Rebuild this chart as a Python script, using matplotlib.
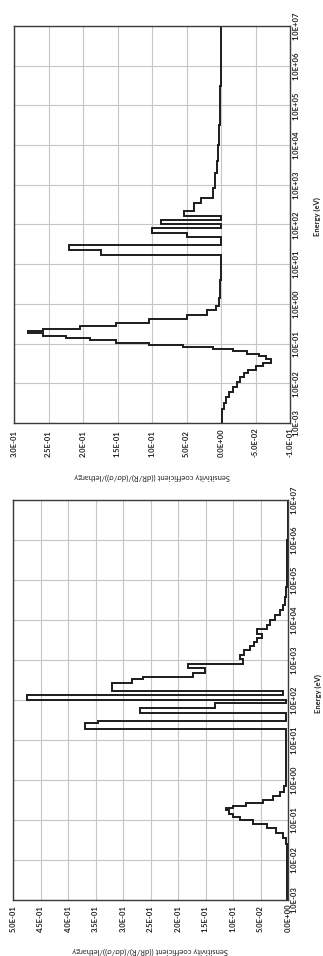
import matplotlib
matplotlib.use("Agg")
import matplotlib.pyplot as plt
import numpy as np
from matplotlib.ticker import FuncFormatter, FixedLocator, NullLocator

plt.rcParams['font.family'] = ['Lato', 'DejaVu Sans']

# group lower bounds as log10(E/eV); the last entry closes the top group
top_loge = [-3.00, -2.80, -2.65, -2.50, -2.34, -2.21, -2.09, -1.96, -1.85, -1.75,
            -1.66, -1.56, -1.48, -1.40, -1.32, -1.25, -1.19, -1.14, -1.09, -1.04,
            -0.98, -0.92, -0.87, -0.80, -0.74, -0.68, -0.62, -0.55, -0.47, -0.38,
            -0.28, -0.15, -0.05, 0.15, 0.60,
            1.235, 1.35, 1.485, 1.685, 1.793, 1.90, 2.018, 2.125, 2.225, 2.335,
            2.543, 2.668, 2.918, 3.3, 3.6, 4.0, 4.5, 5.0, 5.5, 6.0, 6.5, 7.0]
top_sens = [-0.001, -0.002, -0.004, -0.0075, -0.012, -0.017, -0.023, -0.027, -0.034, -0.039,
            -0.051, -0.061, -0.073, -0.065, -0.055, -0.037, -0.017, 0.012, 0.055, 0.104,
            0.152, 0.190, 0.224, 0.258, 0.279, 0.258, 0.205, 0.152, 0.104, 0.050,
            0.021, 0.007, 0.003, 0.001, 0.0005,
            0.174, 0.220, 0.0005, 0.050, 0.100, 0.0005, 0.087, 0.0005, 0.053, 0.039,
            0.029, 0.012, 0.009, 0.006, 0.0045, 0.0035, 0.002, 0.001, 0.0007, 0.0003, 0.0]

bot_loge = [-3.0, -2.5, -2.0, -1.6, -1.45, -1.32, -1.20, -1.10, -1.00, -0.92,
            -0.84, -0.76, -0.70, -0.64, -0.57, -0.49, -0.41, -0.30, -0.15, 0.0,
            0.6, 1.0,
            1.268, 1.418, 1.483, 1.683, 1.808, 1.918, 2.0, 2.125, 2.23, 2.417,
            2.517, 2.583, 2.683, 2.793, 2.90, 3.018, 3.125, 3.25, 3.35, 3.45,
            3.55, 3.65, 3.775, 3.875, 4.0, 4.125, 4.25, 4.375, 4.575, 4.825,
            5.175, 6.0, 7.0]
bot_sens = [0.001, 0.0015, 0.002, 0.004, 0.009, 0.021, 0.039, 0.064, 0.088, 0.100,
            0.108, 0.112, 0.100, 0.076, 0.045, 0.027, 0.015, 0.008, 0.004, 0.003,
            0.003, 0.004,
            0.369, 0.345, 0.003, 0.270, 0.133, 0.003, 0.475, 0.009, 0.320, 0.284,
            0.263, 0.172, 0.151, 0.181, 0.082, 0.088, 0.080, 0.070, 0.062, 0.057,
            0.048, 0.056, 0.038, 0.032, 0.024, 0.015, 0.009, 0.005, 0.003, 0.002,
            0.001, 0.0005]

top_ticks = [0.30, 0.25, 0.20, 0.15, 0.10, 0.05, 0.0, -0.05, -0.10]
bot_ticks = [0.50, 0.45, 0.40, 0.35, 0.30, 0.25, 0.20, 0.15, 0.10, 0.05, 0.0]
energy_ticks = [1e-3, 1e-2, 1e-1, 1e0, 1e1, 1e2, 1e3, 1e4, 1e5, 1e6, 1e7]

ylab = 'Sensitivity coefficient ((dR/R)/(d\u03c3/\u03c3))/lethargy'


def sci(v, pos=None):
    return '{:.1E}'.format(round(v, 8) + 0.0)


def step_xy(loge, sens):
    e = 10.0 ** np.asarray(loge)
    y = np.repeat(e, 2)[1:-1]
    x = np.repeat(np.asarray(sens), 2)
    return x, y


def panel(ax, loge, sens, ticks, xpad, lab_y, en_x, en_y):
    x, y = step_xy(loge, sens)
    ax.plot(x, y, color='#1c1c1c', lw=1.4, solid_joinstyle='miter')
    ax.set_yscale('log')
    ax.set_ylim(1e-3, 1e7)
    ax.set_xlim(max(ticks), min(ticks))
    ax.xaxis.set_major_locator(FixedLocator(ticks))
    ax.yaxis.set_major_locator(FixedLocator(energy_ticks))
    ax.yaxis.set_minor_locator(NullLocator())
    ax.xaxis.set_major_formatter(FuncFormatter(sci))
    ax.yaxis.set_major_formatter(FuncFormatter(sci))
    ax.yaxis.tick_right()
    ax.yaxis.set_label_position('right')
    ax.grid(True, color='#c6c6c6', lw=0.8)
    ax.set_axisbelow(True)
    for sp in ax.spines.values():
        sp.set_color('#3a3a3a')
        sp.set_linewidth(1.0)
    ax.tick_params(axis='both', length=0, labelsize=5.5, colors='#222222')
    ax.tick_params(axis='x', labelrotation=90, pad=xpad)
    ax.tick_params(axis='y', labelrotation=90, pad=2.0)
    for t in ax.get_xticklabels():
        t.set_va('bottom')
        t.set_fontweight('bold')
    for t in ax.get_yticklabels():
        t.set_va('center')
        t.set_fontweight('bold')
    ax.set_xlabel(ylab, rotation=180, fontsize=5.5, color='#222222', va='center')
    ax.xaxis.set_label_coords(0.5, lab_y)
    ax.set_ylabel('Energy (eV)', rotation=90, fontsize=5.5, fontweight='bold',
                  color='#222222', va='center', ha='center')
    ax.yaxis.set_label_coords(en_x, en_y)


fig = plt.figure(figsize=(3.23, 9.56), dpi=100)
ax_top = fig.add_axes([14 / 323, (956 - 423) / 956, 276 / 323, 397 / 956])
ax_bot = fig.add_axes([13 / 323, (956 - 900) / 956, 275 / 323, 400 / 956])

panel(ax_top, top_loge, top_sens, top_ticks, 24.5, -0.136, 1.10, 0.52)
panel(ax_bot, bot_loge, bot_sens, bot_ticks, 23.0, -0.1275, 1.109, 0.515)

fig.savefig('out.png', dpi=100)
